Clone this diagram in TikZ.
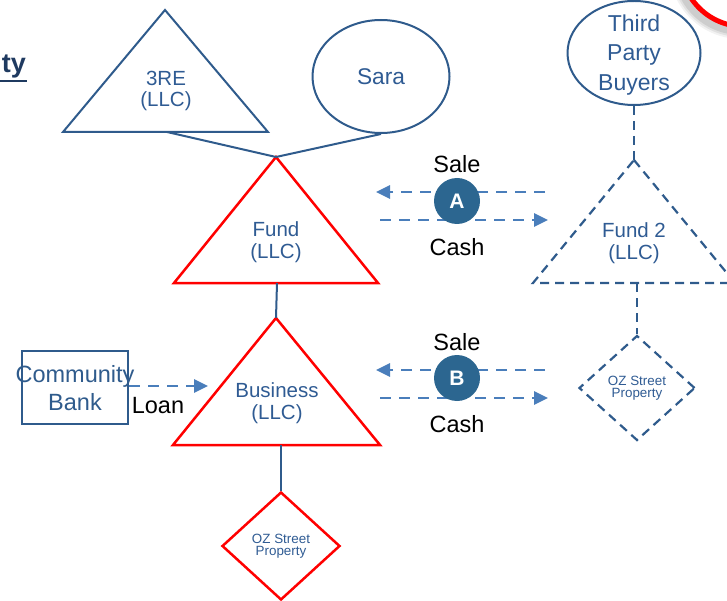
\documentclass[tikz,border=0pt]{standalone}
\usepackage{fontspec}
\setmainfont{Liberation Sans}
\usetikzlibrary{arrows.meta,shapes.geometric}
\definecolor{navy}{HTML}{2F5B8C}
\definecolor{labelblue}{HTML}{2F5B93}
\definecolor{flowblue}{HTML}{4A7EBB}
\definecolor{badgefill}{HTML}{2C6690}
\definecolor{titlenavy}{HTML}{1F3A60}
\begin{document}
\begin{tikzpicture}[x=1pt,y=-1pt,
  outline/.style={draw=navy,line width=2pt,line join=miter},
  redline/.style={draw=red,line width=2.5pt,line join=miter},
  ghost/.style={draw=navy,line width=2.2pt,dash pattern=on 9pt off 6pt},
  link/.style={draw=navy,line width=2pt},
  flow/.style={draw=flowblue,line width=2.6pt,dash pattern=on 11pt off 8pt,
    -{Triangle[length=14pt,width=13pt]}},
  lbl/.style={text=labelblue,font=\fontsize{20.5}{21.5}\selectfont,align=center,inner sep=0},
  biglbl/.style={text=labelblue,font=\fontsize{23}{29.5}\selectfont,align=center,inner sep=0},
  small/.style={text=labelblue,font=\fontsize{13.4}{12.5}\selectfont,align=center,inner sep=0},
  plain/.style={text=black,font=\fontsize{23.5}{26}\selectfont,inner sep=0},
  badge/.style={circle,fill=badgefill,minimum size=46pt,inner sep=0,text=white,
    font=\bfseries\fontsize{21}{21}\selectfont}
]
\useasboundingbox (0,0) rectangle (727,601);
\clip (0,0) rectangle (727,601);

% heading fragment, top left
\node[anchor=base east,inner sep=0,text=titlenavy,font=\bfseries\fontsize{27}{27}\selectfont]
  (heading) at (26,73) {ty};
\draw[titlenavy,line width=2.2pt] (0,81) -- (27,81);

% callout ring, top right
\foreach \r/\o in {72/0.05,70/0.07,68/0.09}
  \fill[black,opacity=\o] (741,-33) circle (\r);
\draw[red,line width=5pt,fill=white] (744,-37) circle (63.5);

% 3RE (LLC)
\coordinate (r3a) at (165,10);
\coordinate (r3l) at (63,132);
\coordinate (r3r) at (268,132);
\coordinate (r3b) at (167,132);
\draw[outline] (r3a) -- (r3r) -- (r3l) -- cycle;
\node[lbl] (r3lbl) at (166,91) {3RE\\(LLC)};

% Sara
\node[ellipse,draw=navy,line width=2pt,minimum width=137pt,minimum height=113pt,
  inner sep=0,text=labelblue,font=\fontsize{22.7}{24}\selectfont] (sara) at (381,76.5) {Sara};

% Fund (LLC)
\coordinate (fa) at (276,157);
\coordinate (fl) at (174,283);
\coordinate (fr) at (378,283);
\coordinate (fb) at (277,283);
\draw[redline] (fa) -- (fr) -- (fl) -- cycle;
\node[lbl] (fundlbl) at (276,242) {Fund\\(LLC)};

% Business (LLC)
\coordinate (ba) at (276,318);
\coordinate (bl) at (173,445);
\coordinate (br) at (380,445);
\coordinate (bb) at (281,445);
\draw[redline] (ba) -- (br) -- (bl) -- cycle;
\node[lbl] (buslbl) at (277,403) {Business\\(LLC)};

% OZ Street Property (owned)
\node[diamond,draw=red,line width=2.5pt,minimum width=118pt,minimum height=108pt,
  inner sep=0] (oz) at (281,546) {};
\node[small] (ozlbl) at (oz.center) {OZ Street\\Property};

% ownership links
\draw[link] (r3b) -- (fa);
\draw[link] (sara.south) -- (fa);
\draw[link] (fb) -- (ba);
\draw[link] (bb) -- (oz.north);

% Community Bank and loan
\node[draw=navy,line width=2pt,minimum width=106pt,minimum height=73pt,inner sep=0]
  (bank) at (75,387) {};
\node[text=navy,font=\fontsize{23.5}{28}\selectfont,align=center,inner sep=0]
  (banklbl) at (75,388) {Community\\Bank};
\coordinate (loanend) at (208,386);
\draw[flow] (bank.east |- loanend) -- (loanend);
\node[plain] (loan) at (158,406) {Loan};

% Third Party Buyers
\node[ellipse,draw=navy,line width=2pt,minimum width=133pt,minimum height=104pt,
  inner sep=0] (tpb) at (634,53) {};
\node[biglbl] (tpblbl) at (634,55) {Third\\Party\\Buyers};

% Fund 2 (LLC)
\coordinate (f2a) at (634,160);
\coordinate (f2l) at (533,283);
\coordinate (f2r) at (735,283);
\coordinate (f2b) at (637,283);
\draw[ghost] (f2a) -- (f2r) -- (f2l) -- cycle;
\node[lbl] (f2lbl) at (634,243) {Fund 2\\(LLC)};

% OZ Street Property (to be sold)
\node[diamond,ghost,minimum width=116pt,minimum height=105pt,inner sep=0]
  (oz2) at (637,388) {};
\node[small] (oz2lbl) at (oz2.center) {OZ Street\\Property};

\draw[ghost] (tpb.south) -- (f2a);
\draw[ghost] (f2b) -- (oz2.north);

% exchange A
\coordinate (a1s) at (545,192);
\coordinate (a1e) at (376,192);
\coordinate (a2s) at (380,220);
\coordinate (a2e) at (548,220);
\draw[flow] (a1s) -- (a1e);
\draw[flow] (a2s) -- (a2e);
\node[badge] (ba1) at (457,201) {A};
\node[plain] (salea) at (457,164) {Sale};
\node[plain] (casha) at (457,247) {Cash};

% exchange B
\coordinate (b1s) at (545,370);
\coordinate (b1e) at (376,370);
\coordinate (b2s) at (380,398);
\coordinate (b2e) at (548,398);
\draw[flow] (b1s) -- (b1e);
\draw[flow] (b2s) -- (b2e);
\node[badge] (bb1) at (457,378) {B};
\node[plain] (saleb) at (457,342) {Sale};
\node[plain] (cashb) at (457,424) {Cash};
\end{tikzpicture}
\end{document}
